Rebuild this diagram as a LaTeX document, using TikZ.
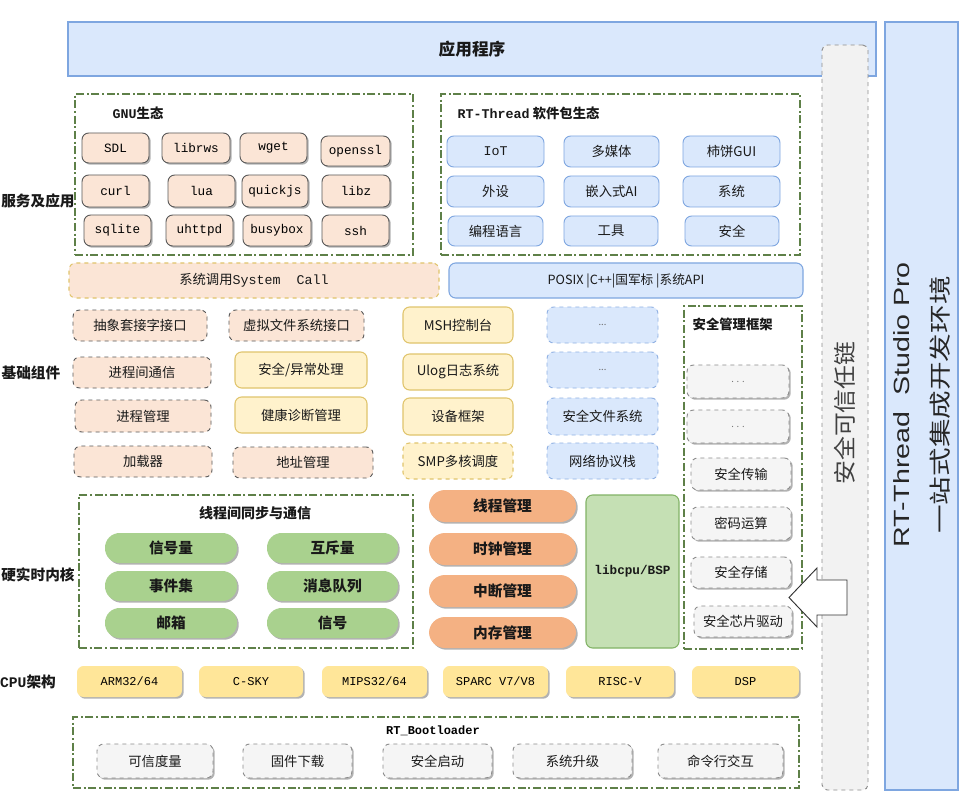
\documentclass[tikz,border=0pt]{standalone}
\usepackage{fontspec}
\setmainfont{Noto Sans CJK SC}
\newfontfamily\mono{Liberation Mono}
\newfontfamily\arialf{Liberation Sans}
\usetikzlibrary{shadows}
\definecolor{cPeach}{HTML}{FBE5D6}
\definecolor{cDark}{HTML}{595959}
\definecolor{cBlue}{HTML}{DAE8FC}
\definecolor{cBlueB}{HTML}{7EA6E0}
\definecolor{cBlueD}{HTML}{8FB0E3}
\definecolor{cYel}{HTML}{FFF2CC}
\definecolor{cYelB}{HTML}{E0C46C}
\definecolor{cGray}{HTML}{F5F5F5}
\definecolor{cGrayB}{HTML}{8C8C8C}
\definecolor{cGreen}{HTML}{A9D18E}
\definecolor{cOrange}{HTML}{F4B183}
\definecolor{cBsp}{HTML}{C5E0B4}
\definecolor{cBspB}{HTML}{82B366}
\definecolor{cCpu}{HTML}{FFE699}
\definecolor{cFrame}{HTML}{5E8048}
\definecolor{cTrust}{HTML}{F2F2F2}
\newcommand\mybox[7]{\node[#1, minimum width={0.75*(#5-#3)}, minimum height={0.75*(#6-#4)}, inner sep=0pt] (#2) at ({(#3+#5)/2},{(#4+#6)/2}) {#7};}
\tikzset{
 itm/.style={draw, rounded corners=5pt, inner sep=0pt, font=\fontsize{10}{12}\selectfont, text=black!90},
 shd/.style={drop shadow={shadow xshift=1.3pt, shadow yshift=-1.3pt, opacity=0.3, fill=black}},
 sgnu/.style={itm, fill=cPeach, draw=cDark, line width=0.7pt, shd, font=\mono\fontsize{9.5}{11}\selectfont, text=black},
 spkg/.style={itm, fill=cBlue, draw=cBlueB, line width=0.7pt},
 speachd/.style={itm, fill=cPeach, draw=cDark, dashed, line width=0.7pt},
 syel/.style={itm, fill=cYel, draw=cYelB, line width=0.8pt},
 syeld/.style={syel, dashed},
 sblued/.style={itm, fill=cBlue, draw=cBlueD, dashed, line width=0.7pt},
 sgray/.style={itm, fill=cGray, draw=cGrayB, dashed, line width=0.7pt, shd},
 sgreen/.style={itm, rounded corners=11pt, draw=none, fill=cGreen, shd, font=\bfseries\fontsize{11}{13}\selectfont},
 sorange/.style={itm, rounded corners=12pt, draw=none, fill=cOrange, shd, font=\bfseries\fontsize{11}{13}\selectfont},
 scpu/.style={itm, draw=none, fill=cCpu, shd, font=\mono\fontsize{9}{10}\selectfont, text=black},
 sbsp/.style={itm, fill=cBsp, draw=cBspB, line width=0.8pt, font=\mono\bfseries\fontsize{9.5}{11}\selectfont},
 sframe/.style={draw=cFrame, line width=0.8pt, dash pattern=on 6pt off 2pt on 1.5pt off 2pt, inner sep=0pt},
 slabel/.style={font=\bfseries\fontsize{11}{13}\selectfont, text=black!90},
 stitle/.style={font=\bfseries\fontsize{10}{12}\selectfont, text=black!90},
}
\begin{document}
\begin{tikzpicture}[x=0.75pt,y=-0.75pt]
\useasboundingbox[fill=white] (0,0) rectangle (961,795);
% top bar
\mybox{itm, rounded corners=0pt, fill=cBlue, draw=cBlueB, line width=0.8pt, font=\bfseries\fontsize{12.5}{14}\selectfont}{app}{68}{22}{876}{76}{应用程序}
% right studio box
\mybox{itm, rounded corners=0pt, fill=cBlue, draw=cBlueB, line width=0.8pt}{studio}{885}{22}{958}{790}{}
\node[rotate=90, align=center, font=\fontsize{16.5}{29}\selectfont, text=black!85] (stt) at (922,405) {\scalebox{1.3}[1]{\arialf RT-Thread\ \ Studio Pro}\\\scalebox{1.3}[1]{一站式集成开发环境}};
% trust chain
\mybox{itm, rounded corners=4pt, fill=cTrust, draw=cGrayB, dashed, line width=0.7pt}{trust}{822}{45}{868}{790}{}
\node[rotate=90, font=\fontsize{17}{19}\selectfont, text=black!75] (trt) at (845,413) {\scalebox{1.05}[1]{安全可信任链}};
% left labels
\node[slabel] (l1) at (38,201) {服务及应用};
\node[slabel] (l2) at (31,373) {基础组件};
\node[slabel] (l3) at (38,575) {硬实时内核};
\node[slabel] (l4) at (28,682) {{\mono CPU}架构};
% GNU frame
\mybox{sframe}{gnuf}{75}{94}{413}{255}{}
\node[stitle, anchor=west] (gnut) at (108,113) {{\mono GNU}生态};
\mybox{sgnu}{g1}{82}{133}{149}{163}{SDL}
\mybox{sgnu}{g2}{162}{133}{230}{163}{librws}
\mybox{sgnu}{g3}{240}{133}{307}{163}{wget}
\mybox{sgnu}{g4}{321}{136}{390}{166}{openssl}
\mybox{sgnu}{g5}{82}{175}{149}{207}{curl}
\mybox{sgnu}{g6}{168}{175}{235}{207}{lua}
\mybox{sgnu}{g7}{242}{175}{308}{207}{quickjs}
\mybox{sgnu}{g8}{322}{175}{390}{207}{libz}
\mybox{sgnu}{g9}{84}{215}{151}{246}{sqlite}
\mybox{sgnu}{g10}{166}{215}{233}{246}{uhttpd}
\mybox{sgnu}{g11}{243}{215}{311}{246}{busybox}
\mybox{sgnu}{g12}{322}{215}{389}{246}{ssh}
% package frame
\mybox{sframe}{pkgf}{441}{94}{800}{255}{}
\node[stitle, anchor=west] (pkgt) at (453,113) {{\mono RT-Thread} 软件包生态};
\mybox{spkg}{p1}{447}{136}{544}{167}{{\mono IoT}}
\mybox{spkg}{p2}{564}{136}{659}{167}{多媒体}
\mybox{spkg}{p3}{683}{136}{780}{167}{柿饼GUI}
\mybox{spkg}{p4}{447}{176}{544}{207}{外设}
\mybox{spkg}{p5}{564}{176}{659}{207}{嵌入式AI}
\mybox{spkg}{p6}{683}{176}{780}{207}{系统}
\mybox{spkg}{p7}{448}{216}{543}{246}{编程语言}
\mybox{spkg}{p8}{564}{216}{658}{246}{工具}
\mybox{spkg}{p9}{685}{216}{779}{246}{安全}
% system call / posix
\mybox{itm, fill=cPeach, draw=cYelB, dashed, line width=0.8pt}{sysc}{69}{263}{439}{298}{系统调用{\mono System\ \ Call}}
\mybox{spkg, line width=0.8pt, font=\fontsize{9.5}{11}\selectfont}{posix}{449}{263}{803}{298}{POSIX |C++|国军标 |系统API}
% base components
\mybox{speachd}{b1}{73}{310}{207}{341}{抽象套接字接口}
\mybox{speachd}{b2}{73}{357}{211}{388}{进程间通信}
\mybox{speachd}{b3}{75}{400}{211}{432}{进程管理}
\mybox{speachd}{b4}{74}{446}{212}{477}{加载器}
\mybox{speachd}{b5}{229}{310}{364}{341}{虚拟文件系统接口}
\mybox{syel}{b6}{235}{352}{367}{388}{安全/异常处理}
\mybox{syel}{b7}{235}{397}{367}{433}{健康诊断管理}
\mybox{speachd}{b8}{233}{447}{373}{478}{地址管理}
\mybox{syel}{b9}{403}{307}{513}{343}{MSH控制台}
\mybox{syel}{b10}{403}{354}{513}{390}{Ulog日志系统}
\mybox{syel}{b11}{403}{398}{513}{435}{设备框架}
\mybox{syeld}{b12}{403}{443}{513}{479}{SMP多核调度}
\mybox{sblued, font=\fontsize{7}{8}\selectfont, text=black!60}{b13}{547}{307}{658}{343}{...}
\mybox{sblued, font=\fontsize{7}{8}\selectfont, text=black!60}{b14}{547}{352}{658}{388}{...}
\mybox{sblued}{b15}{547}{398}{658}{435}{安全文件系统}
\mybox{sblued}{b16}{547}{443}{658}{479}{网络协议栈}
% security frame
\mybox{sframe}{secf}{684}{306}{802}{649}{}
\node[stitle, anchor=west] (sect) at (688,324) {安全管理框架};
\mybox{sgray, font=\fontsize{7}{8}\selectfont, text=black!55}{s1}{687}{365}{789}{398}{. . .}
\mybox{sgray, font=\fontsize{7}{8}\selectfont, text=black!55}{s2}{687}{410}{789}{443}{. . .}
\mybox{sgray}{s3}{691}{458}{791}{490}{安全传输}
\mybox{sgray}{s4}{691}{507}{791}{540}{密码运算}
\mybox{sgray}{s5}{691}{557}{791}{588}{安全存储}
\mybox{sgray}{s6}{694}{606}{792}{637}{安全芯片驱动}
% hollow arrow from trust chain
\draw[fill=white, draw=black!80, line width=0.7pt] (847,580) -- (817,580) -- (817,568) -- (789,597.5) -- (817,627) -- (817,615) -- (847,615) -- cycle;
% kernel frame
\mybox{sframe}{kf}{79}{495}{413}{648}{}
\node[stitle, font=\bfseries\fontsize{10.5}{12}\selectfont] (kft) at (255,513) {线程间同步与通信};
\mybox{sgreen}{k1}{105}{533}{237}{563}{信号量}
\mybox{sgreen}{k2}{267}{533}{398}{563}{互斥量}
\mybox{sgreen}{k3}{105}{571}{237}{601}{事件集}
\mybox{sgreen}{k4}{267}{571}{398}{601}{消息队列}
\mybox{sgreen}{k5}{105}{608}{237}{638}{邮箱}
\mybox{sgreen}{k6}{267}{608}{398}{638}{信号}
\mybox{sorange}{o1}{429}{490}{576}{522}{线程管理}
\mybox{sorange}{o2}{429}{533}{576}{565}{时钟管理}
\mybox{sorange}{o3}{429}{575}{576}{607}{中断管理}
\mybox{sorange}{o4}{429}{617}{576}{648}{内存管理}
\mybox{sbsp}{bsp}{586}{495}{679}{648}{libcpu/BSP}
% CPU
\mybox{scpu}{c1}{77}{666}{182}{697}{ARM32/64}
\mybox{scpu}{c2}{199}{666}{303}{697}{C-SKY}
\mybox{scpu}{c3}{322}{666}{427}{697}{MIPS32/64}
\mybox{scpu}{c4}{443}{666}{548}{697}{SPARC V7/V8}
\mybox{scpu}{c5}{566}{666}{674}{697}{RISC-V}
\mybox{scpu}{c6}{692}{666}{799}{697}{DSP}
% bootloader
\mybox{sframe}{bootf}{73}{717}{799}{788}{}
\node[font=\mono\bfseries\fontsize{9}{10}\selectfont] (boott) at (433,731) {RT\_Bootloader};
\mybox{sgray}{r1}{97}{744}{213}{778}{可信度量}
\mybox{sgray}{r2}{243}{744}{352}{778}{固件下载}
\mybox{sgray}{r3}{383}{744}{492}{778}{安全启动}
\mybox{sgray}{r4}{513}{744}{632}{778}{系统升级}
\mybox{sgray}{r5}{658}{744}{783}{778}{命令行交互}
\end{tikzpicture}
\end{document}
